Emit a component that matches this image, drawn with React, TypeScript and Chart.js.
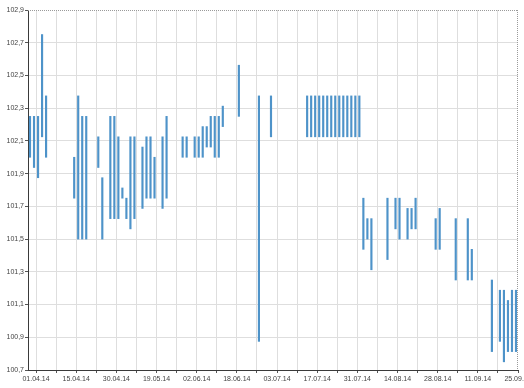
import React, { useEffect, useRef } from 'react';
import { Chart, registerables } from 'chart.js';

Chart.register(...registerables);

// trading-day position of each high–low bar (0 = first day shown)
const tradingDay = [
  0, 1, 2, 3, 4, 11, 12, 13, 14, 17, 18, 20, 21, 22, 23, 24, 25, 26, 28, 29, 30, 31, 33, 34,
  38, 39, 41, 42, 43, 44, 45, 46, 47, 48, 52, 57, 60,
  69, 70, 71, 72, 73, 74, 75, 76, 77, 78, 79, 80, 81, 82,
  83, 84, 85, 89, 91, 92, 94, 95, 96, 101, 102, 106, 109, 110, 115, 117, 118, 119, 120, 121,
];

const lows = [
  102.0, 101.9375, 101.875, 102.125, 102.0, 101.75, 101.5, 101.5, 101.5, 101.9375, 101.5, 101.625,
  101.625, 101.625, 101.75, 101.625, 101.5625, 101.625, 101.6875, 101.75, 101.75, 101.75, 101.6875, 101.75,
  102.0, 102.0, 102.0, 102.0, 102.0, 102.0625, 102.0625, 102.0, 102.0, 102.1875, 102.25, 100.875, 102.125,
  102.125, 102.125, 102.125, 102.125, 102.125, 102.125, 102.125, 102.125, 102.125, 102.125, 102.125, 102.125, 102.125, 102.125,
  101.4375, 101.5, 101.3125, 101.375, 101.5625, 101.5, 101.5, 101.5625, 101.5625, 101.4375, 101.4375, 101.25,
  101.25, 101.25, 100.8125, 100.875, 100.75, 100.8125, 100.8125, 100.8125,
];

const highs = [
  102.25, 102.25, 102.25, 102.75, 102.375, 102.0, 102.375, 102.25, 102.25, 102.125, 101.875, 102.25,
  102.25, 102.125, 101.8125, 101.75, 102.125, 102.125, 102.0625, 102.125, 102.125, 102.0, 102.125, 102.25,
  102.125, 102.125, 102.125, 102.125, 102.1875, 102.1875, 102.25, 102.25, 102.25, 102.3125, 102.5625, 102.375, 102.375,
  102.375, 102.375, 102.375, 102.375, 102.375, 102.375, 102.375, 102.375, 102.375, 102.375, 102.375, 102.375, 102.375, 102.375,
  101.75, 101.625, 101.625, 101.75, 101.75, 101.75, 101.6875, 101.6875, 101.75, 101.625, 101.6875, 101.625,
  101.625, 101.4375, 101.25, 101.1875, 101.1875, 101.125, 101.1875, 101.1875,
];

const xTickLabels = [
  '01.04.14', '15.04.14', '30.04.14', '19.05.14', '02.06.14', '18.06.14', '03.07.14',
  '17.07.14', '31.07.14', '14.08.14', '28.08.14', '11.09.14', '25.09.14',
];

const yTickValues = [100.7, 100.9, 101.1, 101.3, 101.5, 101.7, 101.9, 102.1, 102.3, 102.5, 102.7, 102.9];

const X_MIN = -0.5;
const X_MAX = 121.5;
const X_FIRST_TICK = 1.5;
const X_TICK_STEP = 5;

export default function App() {
  const ref = useRef<HTMLCanvasElement>(null);

  useEffect(() => {
    document.body.style.margin = '0';
    if (!ref.current) return;

    const points = tradingDay.map((d, i) => ({ x: d, y: [lows[i], highs[i]] }));
    const xTicks: number[] = [];
    for (let k = 0; k < xTickLabels.length * 2 - 1; k++) xTicks.push(X_FIRST_TICK + k * X_TICK_STEP);

    const edges = {
      id: 'edges',
      afterDraw(chart: any) {
        const { ctx, chartArea } = chart;
        const { left, top, right, bottom } = chartArea;
        ctx.save();
        ctx.strokeStyle = '#9a9a9a';
        ctx.lineWidth = 1;
        ctx.setLineDash([1, 1]);
        ctx.beginPath();
        ctx.moveTo(left, Math.round(top) + 0.5);
        ctx.lineTo(right, Math.round(top) + 0.5);
        ctx.moveTo(Math.round(right) - 0.5, top);
        ctx.lineTo(Math.round(right) - 0.5, bottom);
        ctx.stroke();
        ctx.restore();
      },
    };

    const chart = new Chart(ref.current, {
      type: 'bar',
      data: {
        datasets: [
          {
            data: points as any,
            backgroundColor: '#4e93c9',
            borderWidth: 0,
            borderSkipped: false,
            barThickness: 1.5,
            grouped: false,
          } as any,
        ],
      },
      options: {
        responsive: false,
        animation: false,
        events: [],
        layout: { padding: { top: 10, right: 6, bottom: 0, left: 0 } },
        plugins: { legend: { display: false }, tooltip: { enabled: false } },
        font: { family: 'Liberation Sans', size: 7 },
        scales: {
          x: {
            type: 'linear',
            min: X_MIN,
            max: X_MAX,
            offset: false,
            afterBuildTicks: (s: any) => {
              s.ticks = xTicks.map((v) => ({ value: v }));
            },
            afterFit: (s: any) => {
              s.height = 18;
              s.paddingLeft = 0;
              s.paddingRight = 0;
            },
            grid: {
              offset: false,
              color: (c: any) => (c.tick && c.tick.value === X_MAX ? 'rgba(0,0,0,0)' : '#dedede'),
              tickColor: '#555',
              tickLength: 3,
              lineWidth: 1,
            },
            border: { color: '#3a3a3a', width: 1 },
            ticks: {
              autoSkip: false,
              maxRotation: 0,
              padding: 2,
              color: '#444',
              font: { family: 'Liberation Sans', size: 7 },
              callback: (_v: any, index: number) => (index % 2 === 0 ? xTickLabels[index / 2] : ''),
            },
          },
          y: {
            type: 'linear',
            min: yTickValues[0],
            max: yTickValues[yTickValues.length - 1],
            afterBuildTicks: (s: any) => {
              s.ticks = yTickValues.map((v) => ({ value: v }));
            },
            afterFit: (s: any) => {
              s.width = 28;
              s.paddingTop = 0;
              s.paddingBottom = 0;
            },
            grid: {
              color: (c: any) =>
                c.tick && Math.abs(c.tick.value - yTickValues[yTickValues.length - 1]) < 1e-9
                  ? 'rgba(0,0,0,0)'
                  : '#dedede',
              tickColor: '#555',
              tickLength: 3,
              lineWidth: 1,
            },
            border: { color: '#3a3a3a', width: 1 },
            ticks: {
              autoSkip: false,
              padding: 1,
              color: '#444',
              font: { family: 'Liberation Sans', size: 7 },
              callback: (v: any) => Number(v).toFixed(1).replace('.', ','),
            },
          },
        },
      },
      plugins: [edges],
    } as any);

    return () => chart.destroy();
  }, []);

  return (
    <div style={{ position: 'relative', width: 524, height: 388 }}>
      <canvas ref={ref} width={524} height={388} style={{ display: 'block', width: 524, height: 388 }} />
    </div>
  );
}
